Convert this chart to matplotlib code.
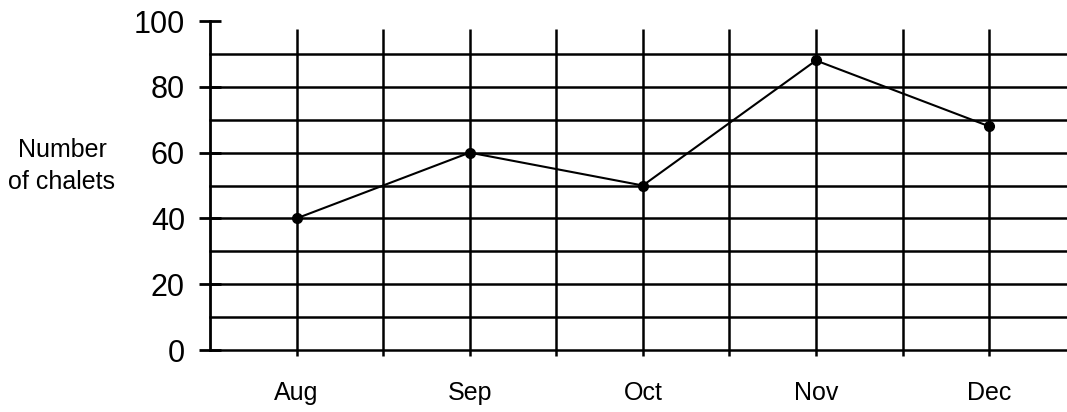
import matplotlib
matplotlib.use("Agg")
import matplotlib.pyplot as plt
import numpy as np

months = ["Aug", "Sep", "Oct", "Nov", "Dec"]
chalets = [40, 60, 50, 88, 68]
y_ticks = [0, 20, 40, 60, 80, 100]

plt.rcParams['font.family'] = ['Liberation Sans', 'DejaVu Sans']

fig = plt.figure(figsize=(10.67, 4.12), dpi=100)
ax = fig.add_axes([210/1067, 62/412, 1 - 210/1067, (350-21)/412])

x = np.arange(1, len(months) + 1)
ax.set_xlim(0.5, 5.45)
ax.set_ylim(0, 100)

# horizontal grid lines every 10
for yv in np.arange(0, 100, 10):
    ax.axhline(yv, color='black', lw=1.8, zorder=1, clip_on=False)
# vertical grid lines at months and half-way points
for xv in np.arange(1, 5.01, 0.5):
    ax.vlines(xv, -1.8, 97.5, color='black', lw=1.8, zorder=1, clip_on=False)

ax.plot(x, chalets, color='black', lw=1.5, marker='o', markersize=7, zorder=3)

for s in ['top', 'right', 'bottom']:
    ax.spines[s].set_visible(False)
ax.spines['left'].set_linewidth(2)

ax.set_yticks(y_ticks)
ax.set_yticklabels([str(v) for v in y_ticks], fontsize=22)
ax.tick_params(axis='y', direction='inout', length=16, width=2, pad=10)
ax.set_xticks(x)
ax.set_xticklabels(months, fontsize=18)
ax.tick_params(axis='x', length=0, pad=22)

fig.text(62/1067, 1 - 166/412, "Number\nof chalets", ha='center', va='center',
         fontsize=18, linespacing=1.45)

fig.savefig("out.png", dpi=100, facecolor='white')
